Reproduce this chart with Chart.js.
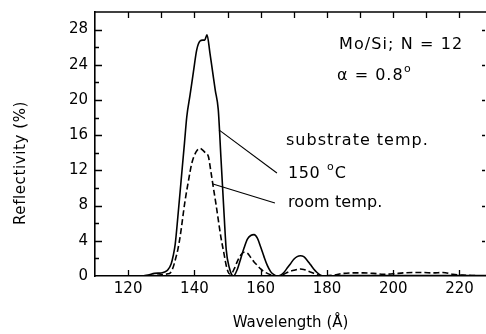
<!DOCTYPE html>
<html><head><meta charset="utf-8">
<script src="https://cdn.jsdelivr.net/npm/chart.js@4"></script>
<style>html,body{margin:0;padding:0;background:#fff}</style>
</head><body>
<canvas id="c" width="486" height="334" style="width:486px;height:334px;display:block"></canvas>
<script>
// ---- data ----
const solidWavelength = [124,126,128,130,131,132,133,133.6,134.2,135,136,137,137.7,138.7,139.7,140.7,141.7,142.5,143.1,143.8,144.7,145.5,146.3,147.2,148,149,149.6,150.5,151.8,153,154,155,156,157,158,159,160,161,162,163,164,165,166,167,168,169,170,171,172,173,174,175,176,177,178,179,185,195,205,215,228];
const solidReflectivity = [0,0.1,0.3,0.35,0.45,0.7,1.4,2.3,3.6,6.7,10.9,15.1,18.1,20.6,23.2,25.7,26.7,26.8,26.8,27.4,25.3,23.2,21.1,18.9,13.5,6.7,3.0,1.0,0,0.8,2.0,3.2,4.2,4.6,4.7,4.3,3.3,2.2,1.2,0.5,0.15,0,0.1,0.4,0.9,1.4,1.9,2.2,2.3,2.2,1.8,1.3,0.8,0.4,0.1,0,0.05,0.05,0.05,0.05,0.05];
const dashedWavelength = [126,128,130,131,132,132.7,133.5,134.2,135,135.7,137.2,138.2,139.2,140.5,141.7,142.5,143.3,144.2,145,145.7,146.5,147.2,148,148.9,149.6,150.4,151,152,153,154,155,156,157,158,159,160,161,162,163,164.5,166,167,168,169,170,171,172,173,174,175,176,177,178,179,182,185,188,191,194,197,200,203,206,209,212,215,218,221,225];
const dashedReflectivity = [0,0.05,0.15,0.2,0.25,0.35,0.9,1.8,3.0,4.5,8.6,10.8,12.8,14.1,14.5,14.3,14.0,13.6,11.8,10.1,8.2,6.4,4.4,2.6,1.2,0.3,0.2,0.8,1.7,2.4,2.7,2.6,2.1,1.6,1.2,0.8,0.5,0.3,0.15,0,0.05,0.2,0.4,0.55,0.65,0.75,0.8,0.75,0.6,0.45,0.3,0.15,0.05,0,0.1,0.3,0.35,0.35,0.3,0.2,0.25,0.35,0.4,0.4,0.35,0.4,0.2,0.1,0.05];
const xTickValues = [120,140,160,180,200,220];
const yTickValues = [0,4,8,12,16,20,24,28];
const seriesNames = ['substrate temp. 150 °C','room temp.'];
const xTitle = 'Wavelength (Å)';
const yTitle = 'Reflectivity (%)';

const FONT = "'DejaVu Sans', sans-serif";

const framePlugin = {
  id: 'frame',
  afterDraw(chart) {
    const {ctx, chartArea: a, scales: {x, y}} = chart;
    ctx.save();
    ctx.strokeStyle = '#000';
    ctx.fillStyle = '#000';
    // top border
    ctx.lineWidth = 1.6;
    ctx.beginPath(); ctx.moveTo(a.left, a.top); ctx.lineTo(a.right, a.top); ctx.stroke();
    ctx.lineWidth = 1.3;
    ctx.beginPath();
    // bottom inward ticks (every 20)
    for (let v = 120; v <= 220; v += 20) { const px = Math.round(x.getPixelForValue(v)) + 0.5; ctx.moveTo(px, a.bottom); ctx.lineTo(px, a.bottom - 6); }
    // top inward ticks (every 10)
    for (let v = 120; v <= 220; v += 10) { const px = Math.round(x.getPixelForValue(v)) + 0.5; ctx.moveTo(px, a.top); ctx.lineTo(px, a.top + 6); }
    // left inward ticks (every 2, longer at 4)
    for (let v = 2; v <= 28; v += 2) { const py = Math.round(y.getPixelForValue(v)) + 0.5; ctx.moveTo(a.left, py); ctx.lineTo(a.left + (v % 4 === 0 ? 7 : 4), py); }
    // right ticks (every 4)
    for (let v = 4; v <= 28; v += 4) { const py = Math.round(y.getPixelForValue(v)) + 0.5; ctx.moveTo(a.right - 1, py); ctx.lineTo(a.right - 4, py); }
    ctx.stroke();

    // leader lines
    ctx.lineWidth = 1.1;
    const P = (vx, vy) => [x.getPixelForValue(vx), y.getPixelForValue(vy)];
    [[147.4, 16.6, 164.9, 11.7], [145.6, 10.45, 164.3, 8.3]].forEach(l => {
      const p1 = P(l[0], l[1]), p2 = P(l[2], l[3]);
      ctx.beginPath(); ctx.moveTo(p1[0], p1[1]); ctx.lineTo(p2[0], p2[1]); ctx.stroke();
    });

    // annotation texts
    ctx.textBaseline = 'middle';
    ctx.textAlign = 'left';
    const txt = (s, px, py, size, sp) => {
      ctx.font = size + 'px ' + FONT;
      ctx.letterSpacing = sp + 'px';
      ctx.fillText(s, px, py);
      return px + ctx.measureText(s).width;
    };
    let e;
    txt('Mo/Si; N = 12', 339, 45, 16, 1.1);
    e = txt('α = 0.8', 337, 76, 16, 1);
    txt('o', e + 0.5, 69, 11, 0);
    txt('substrate temp.', 286, 141, 16, 1.0);
    e = txt('150 ', 288, 174, 16, 0.6);
    e = txt('o', e + 1, 167, 11, 0);
    txt('C', e + 1, 174, 16, 0);
    txt('room temp.', 288, 203, 16, 0.1);

    // y-axis title
    ctx.translate(21, 163);
    ctx.rotate(-Math.PI / 2);
    ctx.textAlign = 'center';
    ctx.font = '15px ' + FONT;
    ctx.letterSpacing = '0.6px';
    ctx.fillText(yTitle, 0, 0);
    ctx.restore();
  }
};

new Chart(document.getElementById('c'), {
  type: 'line',
  data: {
    datasets: [
      {
        label: seriesNames[0],
        data: solidWavelength.map((w, i) => ({x: w, y: solidReflectivity[i]})),
        borderColor: '#000', borderWidth: 1.6, pointRadius: 0,
        cubicInterpolationMode: 'monotone', fill: false
      },
      {
        label: seriesNames[1],
        data: dashedWavelength.map((w, i) => ({x: w, y: dashedReflectivity[i]})),
        borderColor: '#000', borderWidth: 1.6, borderDash: [6, 3], pointRadius: 0,
        cubicInterpolationMode: 'monotone', fill: false
      }
    ]
  },
  options: {
    responsive: false,
    animation: false,
    devicePixelRatio: 1,
    layout: {padding: {top: 12, right: 0, left: 0, bottom: 0}},
    plugins: {legend: {display: false}, tooltip: {enabled: false}},
    scales: {
      x: {
        type: 'linear', min: 110, max: 228,
        afterBuildTicks: s => { s.ticks = xTickValues.map(v => ({value: v})); },
        afterFit: s => { s.height = 58; s.paddingLeft = 0; s.paddingRight = 0; },
        grid: {display: false, drawTicks: false},
        border: {display: true, color: '#000', width: 1.6},
        ticks: {color: '#000', font: {family: FONT, size: 15}, padding: 4, maxRotation: 0},
        title: {display: true, text: xTitle, color: '#000', font: {family: FONT, size: 15}, padding: {top: 0, bottom: 2}}
      },
      y: {
        type: 'linear', min: 0, max: 30,
        afterBuildTicks: s => { s.ticks = yTickValues.map(v => ({value: v})); },
        afterFit: s => { s.width = 95; s.paddingTop = 0; s.paddingBottom = 0; },
        grid: {display: false, drawTicks: false},
        border: {display: true, color: '#000', width: 1.6},
        ticks: {color: '#000', font: {family: FONT, size: 15}, padding: 7}
      }
    }
  },
  plugins: [framePlugin]
});
</script>
</body></html>
